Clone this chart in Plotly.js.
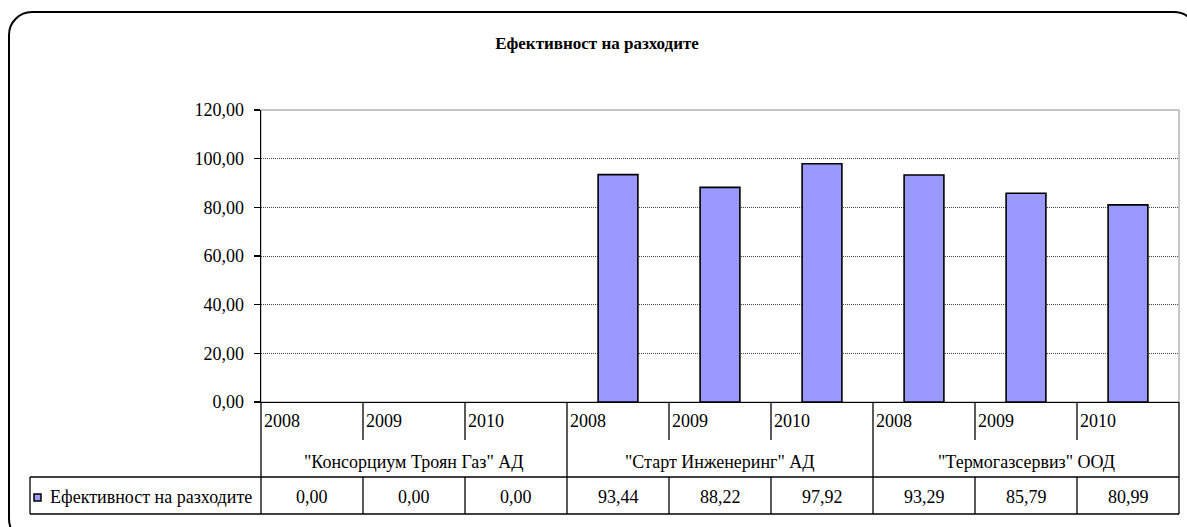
<!DOCTYPE html>
<html>
<head>
<meta charset="utf-8">
<script src="https://cdn.plot.ly/plotly-3.0.1.min.js"></script>
<style>
  html, body { margin: 0; padding: 0; background: #ffffff; }
  #wrap { position: relative; width: 1187px; height: 527px; overflow: hidden; background: #fff; }
  #frame { position: absolute; left: 8px; top: 11px; width: 1190px; height: 532px;
           border: 2px solid #000; border-radius: 24px; box-sizing: border-box; }
  #chart { position: absolute; left: 0; top: 0; width: 1187px; height: 527px; }
</style>
</head>
<body>
<div id="wrap">
  <div id="frame"></div>
  <div id="chart"></div>
</div>
<script>
// ---- data ----
const chartTitle = 'Ефективност на разходите';
const seriesName = 'Ефективност на разходите';
const years = ['2008', '2009', '2010', '2008', '2009', '2010', '2008', '2009', '2010'];
const companies = ['"Консорциум Троян Газ" АД', '"Старт Инженеринг" АД', '"Термогазсервиз" ООД'];
const values = [0.00, 0.00, 0.00, 93.44, 88.22, 97.92, 93.29, 85.79, 80.99];
const yTicks = [0, 20, 40, 60, 80, 100, 120];

// ---- build ----
const n = values.length;
const perGroup = years.length / companies.length;
const idx = values.map((_, i) => i);
const xRange = [-0.5, n - 0.5];
const xp = b => (b - xRange[0]) / (xRange[1] - xRange[0]); // boundary -> paper

const fontFam = '"Liberation Serif", "Times New Roman", serif';
const txtSize = 18;
const fmt = v => v.toFixed(2).replace('.', ',');

// table rows (paper y, below plot area)
const plotH = 292;
const plotW = 918;
const py = px => -px / plotH; // pixel offset below axis -> paper
const yYearBottom = py(38);
const yRowTop = py(75);
const yRowBottom = py(112);
const legendLeft = -231 / plotW;

const shapes = [];
// plot area border (top/right gray)
shapes.push({type: 'rect', xref: 'paper', yref: 'paper', x0: 0, x1: 1, y0: 0, y1: 1,
  line: {color: '#8c8c8c', width: 1}, layer: 'below'});
// column boundaries
for (let b = 0; b <= n; b++) {
  const xb = xp(b - 0.5);
  const isGroup = (b % perGroup === 0);
  if (isGroup) {
    shapes.push({type: 'line', xref: 'paper', yref: 'paper', x0: xb, x1: xb, y0: 0, y1: yRowBottom,
      line: {color: '#000', width: 1.3}});
  } else {
    shapes.push({type: 'line', xref: 'paper', yref: 'paper', x0: xb, x1: xb, y0: 0, y1: yYearBottom,
      line: {color: '#000', width: 1.3}});
    shapes.push({type: 'line', xref: 'paper', yref: 'paper', x0: xb, x1: xb, y0: yRowTop, y1: yRowBottom,
      line: {color: '#000', width: 1.3}});
  }
}
// horizontal table lines
[yRowTop, yRowBottom].forEach(yy => shapes.push({type: 'line', xref: 'paper', yref: 'paper',
  x0: legendLeft, x1: 1, y0: yy, y1: yy, line: {color: '#000', width: 1.3}}));
shapes.push({type: 'line', xref: 'paper', yref: 'paper', x0: legendLeft, x1: legendLeft,
  y0: yRowTop, y1: yRowBottom, line: {color: '#000', width: 1.3}});
// legend key
const keyL = legendLeft + 4 / plotW, keyR = legendLeft + 11 / plotW;
shapes.push({type: 'rect', xref: 'paper', yref: 'paper', x0: keyL, x1: keyR,
  y0: py(92), y1: py(99), fillcolor: '#9999FF', line: {color: '#000', width: 1.5}});

const annotations = [];
years.forEach((yr, i) => annotations.push({xref: 'paper', yref: 'paper', x: xp(i - 0.5) + 1 / plotW, y: py(19),
  xanchor: 'left', yanchor: 'middle', text: yr, showarrow: false,
  font: {family: fontFam, size: txtSize, color: '#000'}}));
companies.forEach((c, g) => annotations.push({xref: 'x', yref: 'paper', x: g * perGroup + (perGroup - 1) / 2,
  y: py(60), xanchor: 'center', yanchor: 'middle', text: c, showarrow: false,
  font: {family: fontFam, size: txtSize, color: '#000'}}));
values.forEach((v, i) => annotations.push({xref: 'x', yref: 'paper', x: i, y: py(95),
  xanchor: 'center', yanchor: 'middle', text: fmt(v), showarrow: false,
  font: {family: fontFam, size: txtSize, color: '#000'}}));
annotations.push({xref: 'paper', yref: 'paper', x: legendLeft + 18 / plotW, y: py(95),
  xanchor: 'left', yanchor: 'middle', text: seriesName, showarrow: false,
  font: {family: fontFam, size: txtSize, color: '#000'}});

const trace = {
  type: 'bar', x: idx, y: values, width: 0.39, name: seriesName,
  marker: {color: '#9999FF', line: {color: '#000', width: values.map(v => v === 0 ? 0 : 1.6)}},
  hoverinfo: 'y'
};

const layout = {
  width: 1187, height: 527,
  margin: {l: 261, r: 8, t: 110, b: 125, pad: 0},
  paper_bgcolor: 'rgba(0,0,0,0)', plot_bgcolor: '#ffffff',
  separators: ',.',
  showlegend: false,
  title: {text: '<b>' + chartTitle + '</b>', x: 0.503, xanchor: 'center', y: 0.918, yanchor: 'middle',
    font: {family: fontFam, size: 17, color: '#000'}},
  xaxis: {range: xRange, showticklabels: false, ticks: '', showgrid: false, zeroline: false,
    showline: true, linecolor: '#000', linewidth: 1.3, fixedrange: true},
  yaxis: {range: [0, 120], tickvals: yTicks, tickformat: '.2f', ticks: 'outside', ticklen: 6,
    tickcolor: '#000', tickwidth: 1.3, showline: true, linecolor: '#000', linewidth: 1.3,
    showgrid: true, gridcolor: '#444', griddash: '1px,1px', gridwidth: 1, zeroline: false,
    ticklabelstandoff: 6,
    tickfont: {family: fontFam, size: txtSize, color: '#000'}, fixedrange: true},
  shapes: shapes,
  annotations: annotations
};

Plotly.newPlot('chart', [trace], layout, {displayModeBar: false, staticPlot: true});
</script>
</body>
</html>
